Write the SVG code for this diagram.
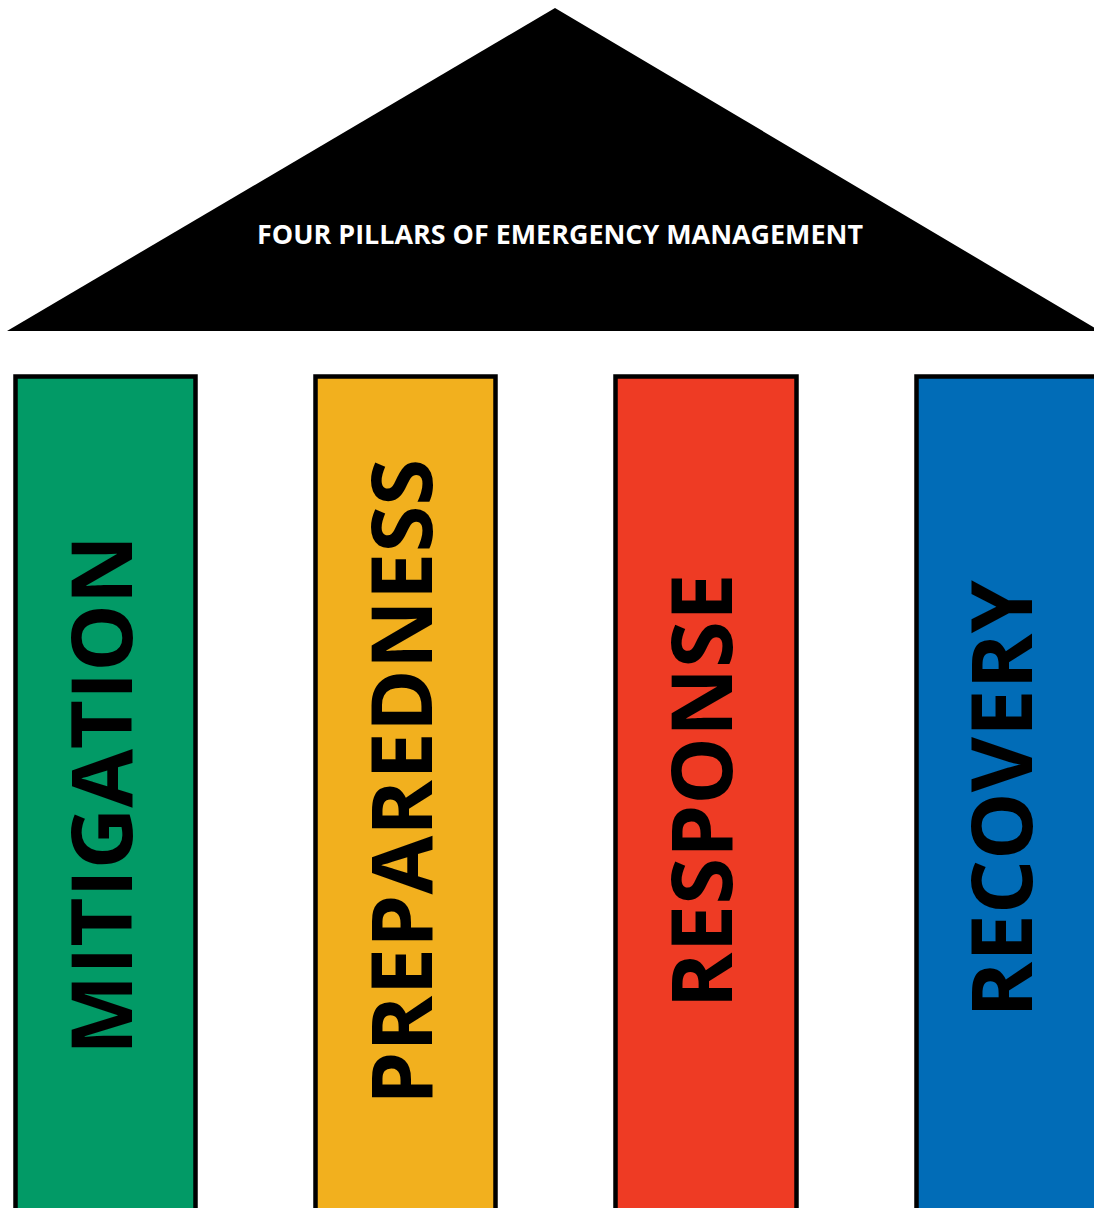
<svg xmlns="http://www.w3.org/2000/svg" width="1094" height="1208" viewBox="0 0 1094 1208">
<style>
.pillar{stroke:#000;stroke-width:4.5}
.lbl{font-family:"Open Sans","Liberation Sans",sans-serif;font-weight:700;font-size:85px;fill:#000;text-anchor:middle}
.title{font-family:"Open Sans","Liberation Sans",sans-serif;font-weight:700;font-size:26px;fill:#fff;text-anchor:middle}
</style>
<rect width="1094" height="1208" fill="#fff"/>
<g id="roof">
<polygon points="555,8 7,331 1100,331" fill="#000"/>
<text class="title" x="560" y="244" textLength="606" lengthAdjust="spacingAndGlyphs">FOUR PILLARS OF EMERGENCY MANAGEMENT</text>
</g>
<g id="mitigation">
<rect class="pillar" x="15.5" y="376.5" width="180" height="840" fill="#029a66"/>
<text class="lbl" transform="translate(132,795) rotate(-90)">MITIGATION</text>
</g>
<g id="preparedness">
<rect class="pillar" x="315.5" y="376.5" width="180" height="840" fill="#f2b01e"/>
<text class="lbl" transform="translate(432,782) rotate(-90)">PREPAREDNESS</text>
</g>
<g id="response">
<rect class="pillar" x="615.5" y="376.5" width="181" height="840" fill="#ee3b24"/>
<text class="lbl" transform="translate(732,791) rotate(-90)">RESPONSE</text>
</g>
<g id="recovery">
<rect class="pillar" x="916.5" y="376.5" width="200" height="840" fill="#016cb7"/>
<text class="lbl" transform="translate(1032,799) rotate(-90)">RECOVERY</text>
</g>
<g id="connectors"/>
</svg>
